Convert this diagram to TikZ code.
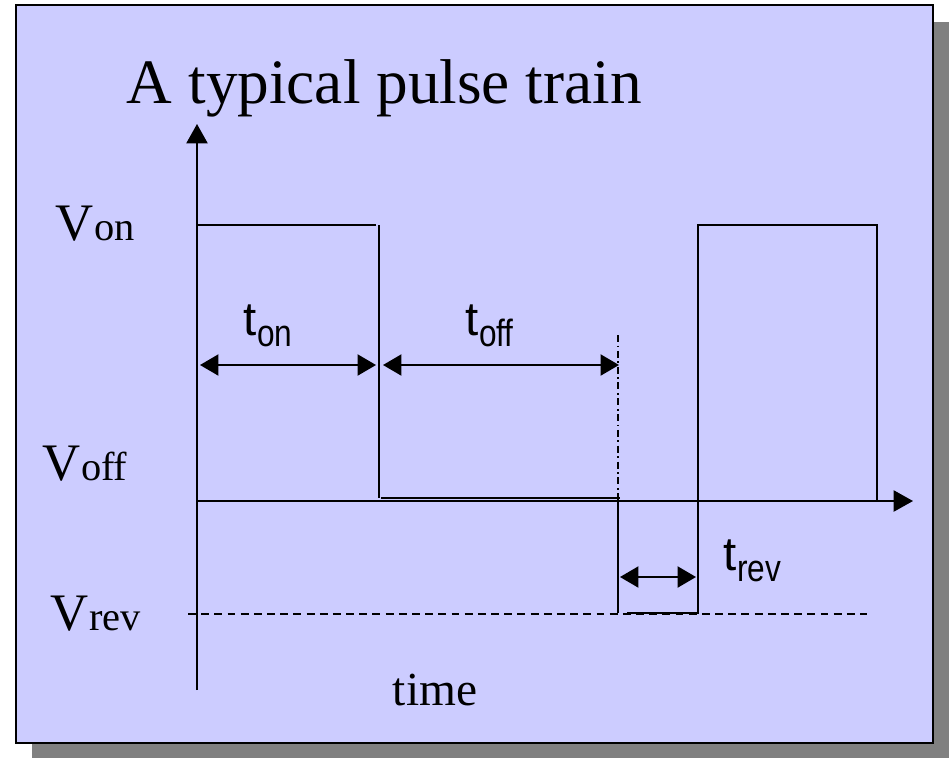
\documentclass[tikz,border=0pt]{standalone}
\usepackage{fontspec}
\usepackage{graphicx}
\setmainfont{Liberation Serif}
\setsansfont{Liberation Sans}
\usetikzlibrary{arrows.meta}
\definecolor{PanelBlue}{HTML}{CCCCFF}
\definecolor{ShadowGray}{HTML}{808080}

\newcommand{\vlabel}[1]{{\fontsize{30}{30}\selectfont V}{\fontsize{23}{23}\selectfont #1}}
\newcommand{\tlabel}[1]{{\sffamily\fontsize{27}{27}\selectfont t\raisebox{-6.8pt}{\scalebox{1}[1.2]{\fontsize{18}{18}\selectfont #1}}}}

\begin{document}
\begin{tikzpicture}[x=0.02cm,y=-0.02cm,line width=1.1pt,
    tip/.style={-{Triangle[length=11pt,width=12pt]}},
    dim/.style={{Triangle[length=10.5pt,width=12pt]}-{Triangle[length=10.5pt,width=12pt]}},
    rev level/.style={dash pattern=on 4.5pt off 3pt,line width=0.9pt},
    edge mark/.style={dash pattern=on 4pt off 2pt on 1pt off 2pt,line width=0.9pt},
    lbl/.style={inner sep=0pt,anchor=base west}]
  \useasboundingbox (0,0) rectangle (949,758);

  % panel with shadow
  \fill[ShadowGray] (32,22) rectangle (949,758);
  \filldraw[fill=PanelBlue,draw=black,line width=1.1pt] (16,5) rectangle (933,743);

  \node[lbl,font=\fontsize{36}{36}\selectfont] (title) at (126,103) {A typical pulse train};

  % axes
  \coordinate (O) at (197,501);
  \coordinate (Ybot) at (197,690);
  \coordinate (Ytop) at (197,124);
  \coordinate (Xend) at (913,501);
  \draw[tip] (Ybot) -- (Ytop);
  \draw[tip] (O) -- (Xend);

  % level labels
  \node[lbl] (von) at (55,240) {\vlabel{on}};
  \node[lbl] (voff) at (42,480) {\vlabel{off}};
  \node[lbl] (vrev) at (50,630) {\vlabel{rev}};
  \node[anchor=base,font=\fontsize{27}{27}\selectfont] (time) at (435,705) {time};

  % reverse level
  \draw[rev level] (188,614) -- (867,614);

  % pulse train
  \coordinate (A) at (197,225);
  \coordinate (B) at (379,225);
  \coordinate (C) at (618,335);
  \coordinate (D) at (698,225);
  \coordinate (E) at (877,225);
  \draw (A) -- (376,225);
  \draw (B) -- (379,498);
  \draw (381,498) -- (620,498);
  \draw[edge mark] (C) -- (618,500);
  \draw (618,501) -- (618,613);
  \draw (627,613) -- (698,613) -- (D) -- (E) -- (877,501);

  % time spans
  \draw[dim] (200,365) -- (376,365);
  \draw[dim] (383,365) -- (619,365);
  \draw[dim] (620,577) -- (696,577);
  \node[lbl] (ton) at (243,335) {\tlabel{on}};
  \node[lbl] (toff) at (465,335) {\tlabel{off}};
  \node[lbl] (trev) at (723,570) {\tlabel{rev}};
\end{tikzpicture}
\end{document}
